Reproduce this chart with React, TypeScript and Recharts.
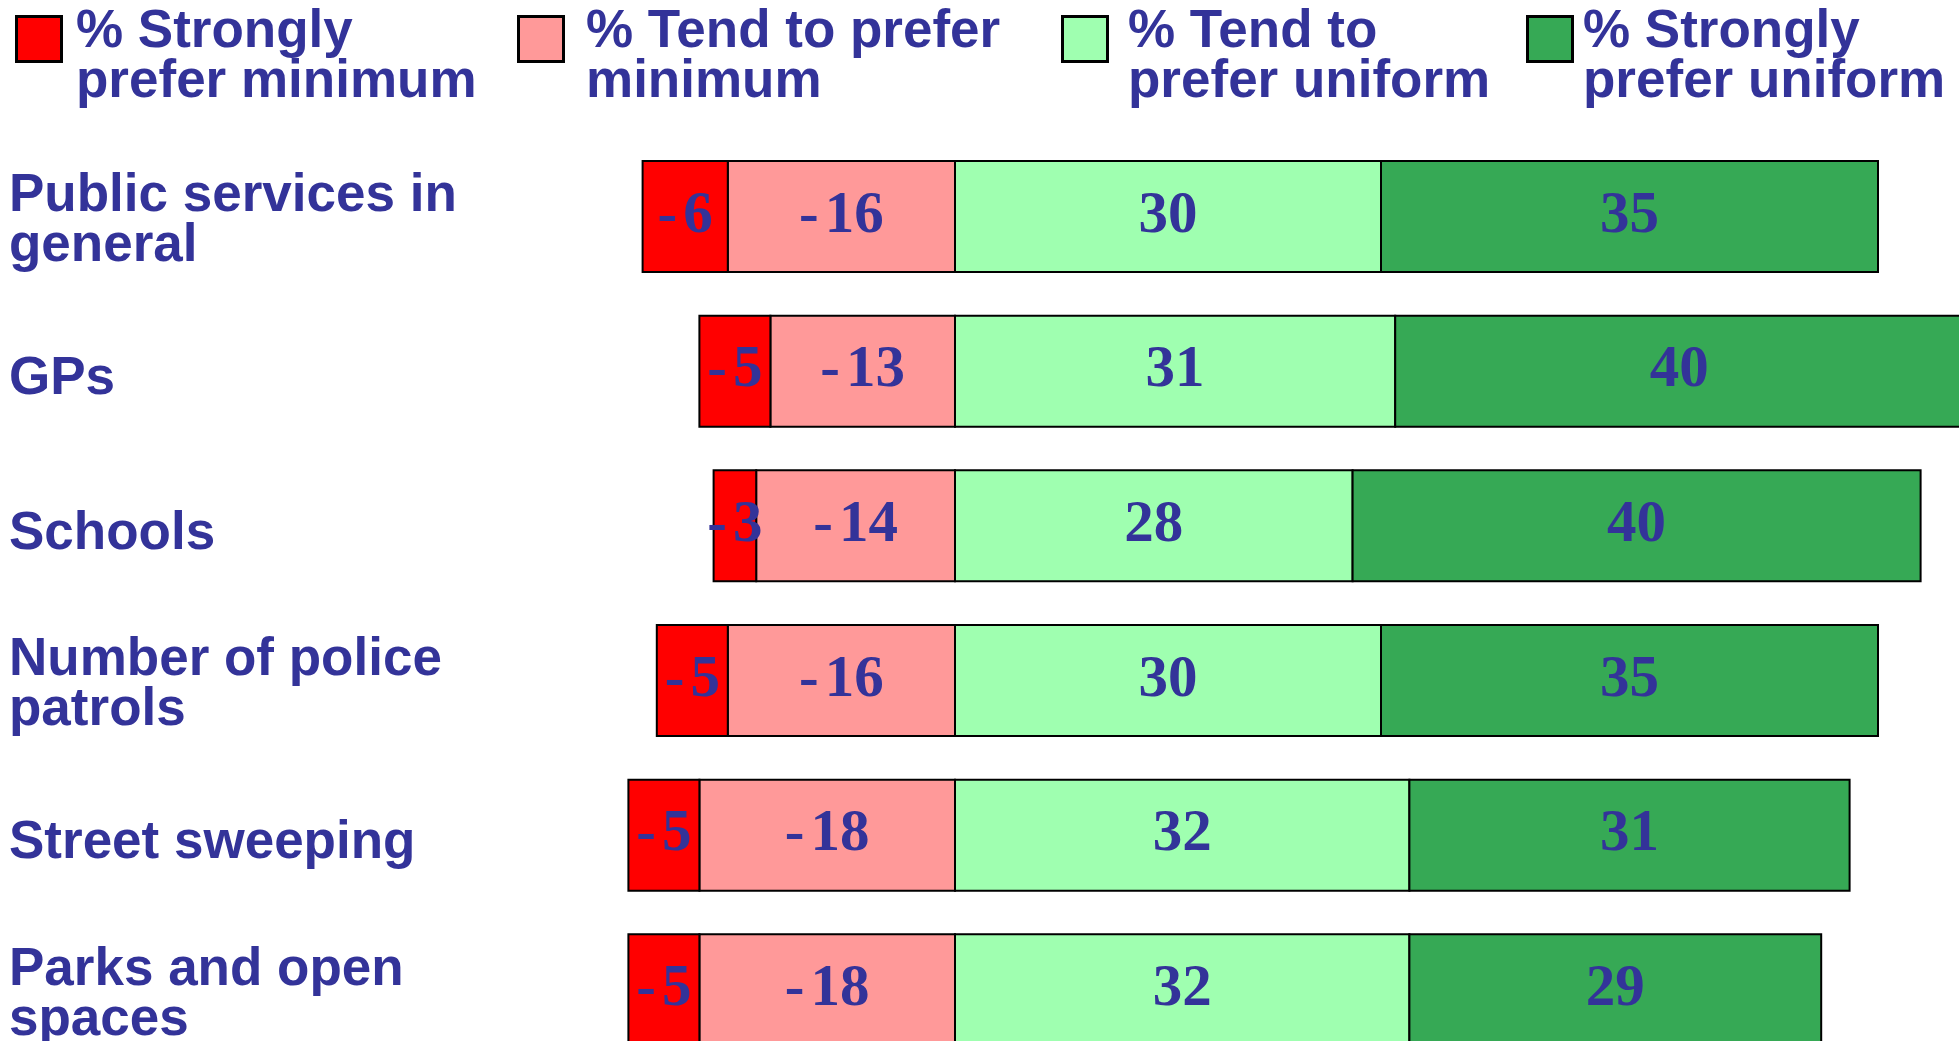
import { BarChart, Bar, XAxis, YAxis, LabelList } from "recharts";

const categories = [
  "Public services in\ngeneral",
  "GPs",
  "Schools",
  "Number of police\npatrols",
  "Street sweeping",
  "Parks and open\nspaces",
];
const strongMin = [-6, -5, -3, -5, -5, -5];
const tendMin = [-16, -13, -14, -16, -18, -18];
const tendUni = [30, 31, 28, 30, 32, 32];
const strongUni = [35, 40, 40, 35, 31, 29];

const legendItems = [
  { name: "% Strongly\nprefer minimum", color: "#FF0000" },
  { name: "% Tend to prefer\nminimum", color: "#FF9999" },
  { name: "% Tend to\nprefer uniform", color: "#9FFFB0" },
  { name: "% Strongly\nprefer uniform", color: "#36A955" },
];

const TEXT = "#333399";

const data = categories.map((name, i) => ({
  name,
  strongMin: strongMin[i],
  tendMin: tendMin[i],
  tendUni: tendUni[i],
  strongUni: strongUni[i],
}));

const legendPos = [
  { box: 15, text: 76 },
  { box: 517, text: 586 },
  { box: 1061, text: 1128 },
  { box: 1526, text: 1583 },
];

const CategoryTick = ({ y, payload }: any) => {
  const lines = String(payload.value).split("\n");
  const base = lines.length === 1 ? [y + 23] : [y - 5, y + 45];
  return (
    <text
      fill={TEXT}
      fontFamily="'Liberation Sans', Arial, sans-serif"
      fontWeight="bold"
      fontSize={53}
      textAnchor="start"
    >
      {lines.map((l, i) => (
        <tspan key={i} x={9} y={base[i]}>
          {l}
        </tspan>
      ))}
    </text>
  );
};

const SegmentLabel = (props: any) => {
  const { x, y, width, height, value } = props;
  const cx = x + width / 2;
  const cy = y + height / 2 + 15;
  const neg = value < 0;
  return (
    <text
      x={cx}
      y={cy}
      fill={TEXT}
      fontFamily="'Liberation Serif', 'Times New Roman', serif"
      fontWeight="bold"
      fontSize={59}
      textAnchor="middle"
    >
      {neg ? (
        <>
          <tspan>-</tspan>
          <tspan dx={6}>{Math.abs(value)}</tspan>
        </>
      ) : (
        value
      )}
    </text>
  );
};

const Legendish = () => (
  <>
    {legendItems.map((item, i) => (
      <div key={i}>
        <div
          style={{
            position: "absolute",
            left: legendPos[i].box,
            top: 15,
            width: 48,
            height: 48,
            boxSizing: "border-box",
            border: "3px solid #000",
            background: item.color,
          }}
        />
        <div
          style={{
            position: "absolute",
            left: legendPos[i].text,
            top: 4,
            color: TEXT,
            fontFamily: "'Liberation Sans', Arial, sans-serif",
            fontWeight: "bold",
            fontSize: 53,
            lineHeight: "50px",
            whiteSpace: "pre",
          }}
        >
          {item.name}
        </div>
      </div>
    ))}
  </>
);

export default function App() {
  return (
    <div
      style={{
        position: "absolute",
        left: 0,
        top: 0,
        width: 1959,
        height: 1041,
        overflow: "hidden",
        background: "#fff",
      }}
    >
      <Legendish />
      <BarChart
        width={2020}
        height={1067}
        data={data}
        layout="vertical"
        stackOffset="sign"
        barSize={111}
        margin={{ top: 139, right: 0, bottom: 0, left: 0 }}
      >
        <XAxis type="number" domain={[-25, 75]} hide />
        <YAxis
          type="category"
          dataKey="name"
          width={600}
          axisLine={false}
          tickLine={false}
          tick={<CategoryTick />}
          interval={0}
        />
        {/* negatives stack outward from zero: the "tend" series first */}
        <Bar dataKey="tendMin" stackId="a" fill="#FF9999" stroke="#000" strokeWidth={2} isAnimationActive={false}>
          <LabelList dataKey="tendMin" content={<SegmentLabel />} />
        </Bar>
        <Bar dataKey="strongMin" stackId="a" fill="#FF0000" stroke="#000" strokeWidth={2} isAnimationActive={false}>
          <LabelList dataKey="strongMin" content={<SegmentLabel />} />
        </Bar>
        <Bar dataKey="tendUni" stackId="a" fill="#9FFFB0" stroke="#000" strokeWidth={2} isAnimationActive={false}>
          <LabelList dataKey="tendUni" content={<SegmentLabel />} />
        </Bar>
        <Bar dataKey="strongUni" stackId="a" fill="#36A955" stroke="#000" strokeWidth={2} isAnimationActive={false}>
          <LabelList dataKey="strongUni" content={<SegmentLabel />} />
        </Bar>
      </BarChart>
    </div>
  );
}
